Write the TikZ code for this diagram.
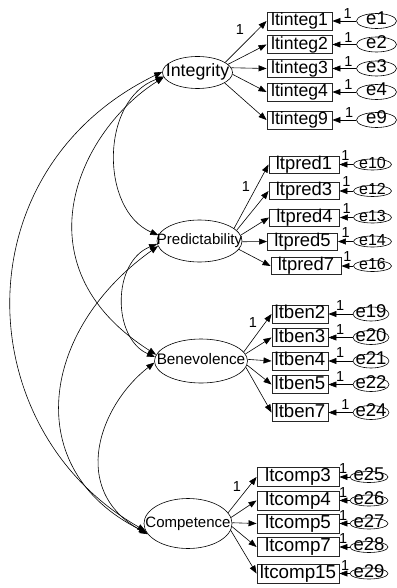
\documentclass[tikz,border=0pt]{standalone}
\usepackage{fontspec}
\setmainfont{Liberation Sans}
\usetikzlibrary{arrows.meta,shapes.geometric}
% text centred in a node without changing the node's size
\newcommand\ctrtext[1]{\makebox[0pt]{\smash{\raisebox{-.36em}{#1}}}}
\newcommand\fs[1]{\fontsize{#1}{#1}\selectfont}
\tikzset{
  lat/.style={draw, ellipse, inner sep=0pt, line width=0.6pt},
  obs/.style={draw=black!85, rectangle, inner sep=0pt, line width=0.9pt,
              text height=12.8pt, text depth=3.6pt},
  err/.style={draw, ellipse, inner sep=0pt, line width=0.6pt},
  load/.style={-{Triangle[length=8pt,width=6pt]}, line width=0.6pt},
  cov/.style={{Triangle[length=8pt,width=6pt]}-{Triangle[length=8pt,width=6pt]}, line width=0.6pt},
  one/.style={font=\fs{14.5}, inner sep=0pt},
}
\begin{document}
\begin{tikzpicture}[x=1pt,y=-1pt]
\useasboundingbox (0,0) rectangle (396,588);

% latent factors
\node[lat, minimum width=70pt, minimum height=32pt] (Integrity) at (197.5,72.5) {\ctrtext{\fs{17.8}Integrity}};
\node[lat, minimum width=85pt, minimum height=42pt] (Predictability) at (199.5,241) {\ctrtext{\fs{15}Predictability}};
\node[lat, minimum width=93pt, minimum height=44pt] (Benevolence) at (201,361) {\ctrtext{\fs{15.3}Benevolence}};
\node[lat, minimum width=88pt, minimum height=50pt] (Competence) at (188,523.5) {\ctrtext{\fs{15}Competence}};

% Integrity indicators
\foreach \n/\y/\e/\p in {ltinteg1/21/e1/0.36, ltinteg2/44.5/e2/0.33, ltinteg3/68.5/e3/0.33, ltinteg4/92/e4/0.33, ltinteg9/120/e9/0.30}{
  \node[obs, minimum width=65pt, minimum height=18pt, font=\fs{17.6}] (\n) at (299.5,\y) {\n};
  \node[err, minimum width=40pt, minimum height=15pt] (\e) at (376.5,\y) {\ctrtext{\fs{18.5}\e}};
  \draw[load] (\e) -- (\n) node[one, pos=\p, above=2pt] (\e one) {1};
}
\draw[load] (Integrity.20) -- (ltinteg1.west);
\draw[load] (Integrity.15) -- (ltinteg2.west);
\draw[load] (Integrity.8) -- (ltinteg3.west);
\draw[load] (Integrity.-3) -- (ltinteg4.west);
\draw[load] (Integrity.-21) -- (ltinteg9.west);
\node[one] (fixInteg) at (240,30) {1};

% Predictability indicators
\foreach \n/\x/\y/\e/\p in {ltpred1/304/164.5/e10/0.56, ltpred3/304/191/e12/0.5, ltpred4/304.5/217.5/e13/0.5, ltpred5/302.5/241.5/e14/0.5, ltpred7/306/266/e16/0.5}{
  \node[obs, minimum width=70pt, minimum height=17pt, font=\fs{18.4}] (\n) at (\x,\y) {\n};
  \node[err, minimum width=38pt, minimum height=11pt] (\e) at (372.5,\y) {\ctrtext{\fs{16}\e}};
  \draw[load] (\e) -- (\n) node[one, pos=\p, above=4pt] (\e one) {1};
}
\draw[load] (Predictability.20) -- (ltpred1.west);
\draw[load] (Predictability.16) -- (ltpred3.west);
\draw[load] (Predictability.8) -- (ltpred4.west);
\draw[load] (Predictability.-1) -- (ltpred5.west);
\draw[load] (Predictability.-12) -- (ltpred7.west);
\node[one] (fixPred) at (246,187) {1};

% Benevolence indicators
\foreach \n/\y/\e/\p in {ltben2/314/e19/0.52, ltben3/337.5/e20/0.52, ltben4/361/e21/0.52, ltben5/384.5/e22/0.52, ltben7/412.5/e24/0.3}{
  \node[obs, minimum width=56pt, minimum height=18pt, font=\fs{18.6}] (\n) at (300,\y) {\n};
  \node[err, minimum width=36pt, minimum height=14pt] (\e) at (371,\y) {\ctrtext{\fs{18.5}\e}};
  \draw[load] (\e) -- (\n) node[one, pos=\p, above=3pt] (\e one) {1};
}
\draw[load] (Benevolence.12) -- (ltben2.west);
\draw[load] (Benevolence.9) -- (ltben3.west);
\draw[load] (Benevolence.2) -- (ltben4.west);
\draw[load] (Benevolence.-5) -- (ltben5.west);
\draw[load] (Benevolence.-8) -- (ltben7.west);
\node[one] (fixBen) at (253,323) {1};

% Competence indicators
\foreach \n/\y/\e/\p in {ltcomp3/477/e25/0.64, ltcomp4/500.5/e26/0.64, ltcomp5/523.5/e27/0.64, ltcomp7/547/e28/0.64, ltcomp15/573.5/e29/0.45}{
  \node[obs, minimum width=82pt, minimum height=19pt, font=\fs{18.8}] (\n) at (298,\y) {\n};
  \node[err, minimum width=38pt, minimum height=11pt] (\e) at (369,\y) {\ctrtext{\fs{18.5}\e}};
  \draw[load] (\e) -- (\n) node[one, pos=\p, above=3pt] (\e one) {1};
}
\draw[load] (Competence.15) -- (ltcomp3.west);
\draw[load] (Competence.8) -- (ltcomp4.west);
\draw[load] (Competence.1) -- (ltcomp5.west);
\draw[load] (Competence.-4) -- (ltcomp7.west);
\draw[load] (Competence.-9) -- (ltcomp15.west);
\node[one] (fixComp) at (237,487) {1};

% factor covariances
\draw[cov] (Integrity.187) .. controls (100,100) and (100,210) .. (Predictability.172);
\draw[cov] (Integrity.188) .. controls (80,130) and (15,265) .. (Benevolence.172);
\draw[cov] (Integrity.179) .. controls (-40,170) and (-32,430) .. (Competence.190);
\draw[cov] (Predictability.184) .. controls (112,262) and (112,338) .. (Benevolence.175);
\draw[cov] (Predictability.187) .. controls (40,330) and (20,470) .. (Competence.193);
\draw[cov] (Benevolence.182) .. controls (100,405) and (68,490) .. (Competence.195);
\end{tikzpicture}
\end{document}
